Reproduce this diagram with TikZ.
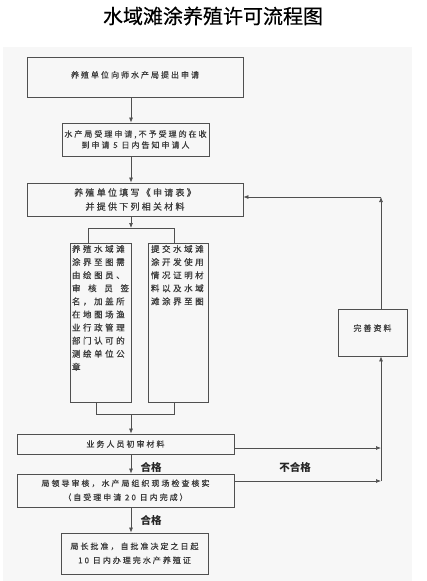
\documentclass[tikz,border=0pt]{standalone}
\usepackage{fontspec}
\newfontfamily\cjk[LetterSpace=25,FakeBold=0.6]{Noto Sans CJK SC}
\newfontfamily\cjkw[LetterSpace=30,FakeBold=0.6]{Noto Sans CJK SC}
\newfontfamily\cjkt[FakeBold=0.5]{Noto Sans CJK SC}
\newfontfamily\cjkl{Noto Sans CJK SC}
\usetikzlibrary{arrows.meta,calc}
\definecolor{linec}{HTML}{505050}
\definecolor{txtc}{HTML}{3A3A3A}
\definecolor{bgc}{HTML}{F7F7F7}
\begin{document}
\begin{tikzpicture}[x=1pt,y=-1pt,
  box/.style={draw=linec, line width=0.8pt, inner sep=0pt, align=center, text=txtc,
              font=\cjk\fontsize{8}{11}\selectfont},
  conn/.style={draw=linec, line width=0.7pt},
  arr/.style={conn, -{Latex[length=5pt,width=4pt]}},
  lbl/.style={font=\cjkl\bfseries\fontsize{10.5}{12}\selectfont, text=black!85, inner sep=0pt}]
\useasboundingbox (0,0) rectangle (426,581);
\fill[bgc] (3,47) rectangle (412,581);

\node[font=\cjkt\fontsize{20}{24}\selectfont, text=black] (title) at (213,16) {水域滩涂养殖许可流程图};

\node[box, minimum width=216pt, minimum height=40pt] (b1) at (135,77)
  {\raisebox{5pt}{养殖单位向师水产局提出申请}};
\node[box, minimum width=147pt, minimum height=33pt] (b2) at (135.5,139.5)
  {水产局受理申请,不予受理的在收\\到申请 5 日内告知申请人};
\node[box, minimum width=216pt, minimum height=33pt, font=\cjk\fontsize{9}{14}\selectfont] (b3) at (135,199.5)
  {养殖单位填写《申请表》\\并提供下列相关材料};
\node[box, font=\cjkw\fontsize{8.5}{13.1}\selectfont] (b4) at (100.5,322.5)
  {\parbox[c][159pt][t]{61pt}{\vspace*{2pt}\leftskip=2pt\rightskip=2pt
   养殖水域滩\\涂界至图需\\由绘图员、\\审\hfill 核\hfill 员\hfill 签\\名，加盖所\\在地图场渔\\业行政管理\\部门认可的\\测绘单位公\\章}};
\node[box, font=\cjkw\fontsize{8.5}{13.1}\selectfont] (b5) at (178,322.5)
  {\parbox[c][159pt][t]{60pt}{\vspace*{2pt}\leftskip=3pt\rightskip=1pt
   提交水域滩\\涂开发使用\\情况证明材\\料以及水域\\滩涂界至图}};
\node[box, minimum width=217pt, minimum height=20pt] (b6) at (125.5,444)
  {\raisebox{-2pt}{业务人员初审材料}};
\node[box, minimum width=217pt, minimum height=33pt, font=\cjk\fontsize{8}{14}\selectfont] (b7) at (125.5,490.5)
  {\raisebox{-2pt}{\begin{tabular}{@{}c@{}}局领导审核，水产局组织现场检查核实\\（自受理申请 20 日内完成）\end{tabular}}};
\node[box, minimum width=147pt, minimum height=41pt, font=\cjk\fontsize{8}{14}\selectfont] (b8) at (134.5,553.5)
  {\raisebox{-5pt}{\begin{tabular}{@{}c@{}}局长批准，自批准决定之日起\\10 日内办理完水产养殖证\end{tabular}}};
\node[box, minimum width=69pt, minimum height=47pt] (b9) at (372.5,332.5)
  {\raisebox{9.5pt}{完善资料}};

\node[lbl] (l1) at (151,467) {合格};
\node[lbl] (l2) at (151,520) {合格};
\node[lbl] (l3) at (295,467) {不合格};

\coordinate (ax) at (131,0);
\coordinate (rx) at (381,0);
\coordinate (rc) at (381,197);
\coordinate (tb) at (131,228);
\coordinate (tbl) at (88,228);
\coordinate (tbr) at (174,228);
\coordinate (bb) at (131,414);
\coordinate (bbl) at (96,414);
\coordinate (bbr) at (174,414);

\draw[arr] (b1.south -| ax) -- (b2.north -| ax);
\draw[arr] (b2.south -| ax) -- (b3.north -| ax);
\draw[arr] (b3.south -| ax) -- (tb);
\draw[conn] (b4.north -| tbl) -- (tbl) -- (tbr) -- (b5.north -| tbr);
\draw[conn] (b4.south -| bbl) -- (bbl) -- (bbr) -- (b5.south -| bbr);
\draw[arr] (bb) -- (b6.north -| ax);
\draw[arr] (b6.south -| ax) -- (b7.north -| ax);
\draw[arr] (b7.south -| ax) -- (b8.north -| ax);
\draw[arr] ([yshift=-4pt]b6.east) -- ([yshift=-4pt]b6.east -| rx);
\draw[arr] ([yshift=9.5pt]b7.east) -- ([yshift=9.5pt]b7.east -| rx);
\draw[arr] ([yshift=9.5pt]b7.east -| rx) -- (b9.south -| rx);
\draw[arr] (b9.north -| rx) -- (rc);
\draw[arr] (rc) -- (rc -| b3.east);
\end{tikzpicture}
\end{document}
